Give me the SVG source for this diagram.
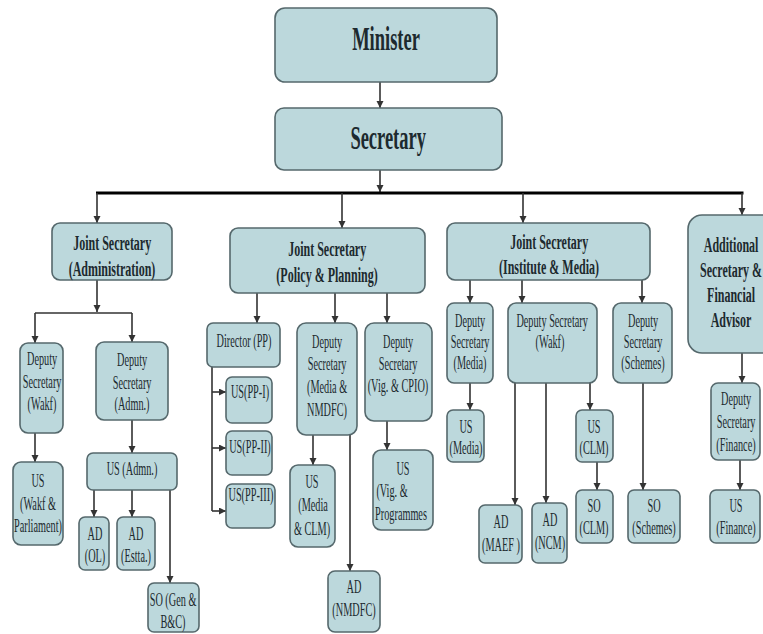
<svg xmlns="http://www.w3.org/2000/svg" width="763" height="634" viewBox="0 0 763 634">
<defs>
<marker id="ah" markerWidth="8" markerHeight="8" refX="7" refY="3.5" orient="auto" markerUnits="userSpaceOnUse">
<path d="M0,0 L7,3.5 L0,7 z" fill="#333"/>
</marker>
<style>
.b{fill:#bcd8dc;stroke:#55686c;stroke-width:1.6}
text{font-family:"Liberation Serif","Times New Roman",serif;fill:#1d2a2f;text-anchor:middle;transform-box:fill-box;transform-origin:center}
.h1{font-size:33px;font-weight:bold;transform:scaleX(.56)}
.h2{font-size:20px;font-weight:bold;transform:scaleX(.6)}
.r{font-size:19px;transform:scaleX(.54)}
.c line,.c path{stroke:#333;stroke-width:1.6;fill:none}
.c .a{marker-end:url(#ah)}
.c .bus{stroke:#000;stroke-width:3.2}
</style>
</defs>
<rect width="763" height="634" fill="#fff"/>

<g class="c" id="connectors">
<line class="a" x1="380" y1="82" x2="380" y2="108"/>
<line class="a" x1="380" y1="170" x2="380" y2="192"/>
<line class="bus" x1="96" y1="193" x2="743.5" y2="193"/>
<line class="a" x1="97" y1="193" x2="97" y2="223"/>
<line class="a" x1="342" y1="193" x2="342" y2="228"/>
<line class="a" x1="523" y1="193" x2="523" y2="223"/>
<line class="a" x1="742" y1="193" x2="742" y2="215"/>
<line class="a" x1="97" y1="280" x2="97" y2="312"/>
<line x1="35" y1="313" x2="132" y2="313"/>
<line class="a" x1="35" y1="313" x2="35" y2="343"/>
<line class="a" x1="132" y1="313" x2="132" y2="342"/>
<line class="a" x1="35" y1="433" x2="35" y2="462"/>
<line class="a" x1="132" y1="420" x2="132" y2="453"/>
<line class="a" x1="94" y1="490" x2="94" y2="517"/>
<line class="a" x1="132" y1="490" x2="132" y2="517"/>
<line class="a" x1="170" y1="490" x2="170" y2="583"/>
<line class="a" x1="257" y1="293" x2="257" y2="323"/>
<line class="a" x1="335" y1="293" x2="335" y2="323"/>
<line class="a" x1="387" y1="293" x2="387" y2="323"/>
<line x1="212" y1="366" x2="212" y2="511"/>
<line class="a" x1="212" y1="392" x2="226" y2="392"/>
<line class="a" x1="212" y1="448" x2="226" y2="448"/>
<line class="a" x1="212" y1="511" x2="226" y2="511"/>
<line class="a" x1="313" y1="435" x2="313" y2="465"/>
<line class="a" x1="350" y1="435" x2="350" y2="571"/>
<line class="a" x1="387" y1="421" x2="387" y2="450"/>
<line class="a" x1="470" y1="280" x2="470" y2="303"/>
<line class="a" x1="522" y1="280" x2="522" y2="303"/>
<line class="a" x1="642" y1="280" x2="642" y2="303"/>
<line class="a" x1="470" y1="383" x2="470" y2="410"/>
<line class="a" x1="515" y1="383" x2="515" y2="505"/>
<line class="a" x1="546" y1="383" x2="546" y2="503"/>
<line class="a" x1="590" y1="383" x2="590" y2="410"/>
<line class="a" x1="597" y1="462" x2="597" y2="490"/>
<line class="a" x1="643" y1="383" x2="643" y2="490"/>
<line class="a" x1="742" y1="353" x2="742" y2="383"/>
<line class="a" x1="740" y1="460" x2="740" y2="490"/>
</g>

<g id="minister"><rect class="b" x="275" y="8" width="222" height="74" rx="10"/><text class="h1" x="386" y="50">Minister</text></g>
<g id="secretary"><rect class="b" x="275" y="108" width="227" height="62" rx="9"/><text class="h1" x="388" y="149">Secretary</text></g>

<g id="js-admin"><rect class="b" x="52" y="223" width="120" height="57" rx="8"/><text class="h2" x="112" y="250">Joint Secretary</text><text class="h2" x="112" y="276">(Administration)</text></g>
<g id="js-pp"><rect class="b" x="230" y="228" width="195" height="65" rx="8"/><text class="h2" x="327" y="256">Joint Secretary</text><text class="h2" x="327" y="282">(Policy &amp; Planning)</text></g>
<g id="js-im"><rect class="b" x="447" y="223" width="203" height="57" rx="8"/><text class="h2" x="549" y="249">Joint Secretary</text><text class="h2" x="549" y="274">(Institute &amp; Media)</text></g>
<g id="as-fa"><rect class="b" x="688" y="215" width="100" height="138" rx="14"/><text class="h2" x="731" y="252">Additional</text><text class="h2" x="731" y="277">Secretary &amp;</text><text class="h2" x="731" y="302">Financial</text><text class="h2" x="731" y="327">Advisor</text></g>

<g id="ds-wakf-l"><rect class="b" x="20" y="343" width="43" height="90" rx="8"/><text class="r" x="42" y="365">Deputy</text><text class="r" x="42" y="388">Secretary</text><text class="r" x="42" y="410">(Wakf)</text></g>
<g id="ds-admn"><rect class="b" x="96" y="342" width="72" height="78" rx="8"/><text class="r" x="132" y="366">Deputy</text><text class="r" x="132" y="389">Secretary</text><text class="r" x="132" y="410">(Admn.)</text></g>
<g id="us-wakf"><rect class="b" x="13" y="462" width="50" height="83" rx="8"/><text class="r" x="38" y="487">US</text><text class="r" x="38" y="510">(Wakf &amp;</text><text class="r" x="38" y="532">Parliament)</text></g>
<g id="us-admn"><rect class="b" x="87" y="453" width="90" height="37" rx="6"/><text class="r" x="132" y="475">US (Admn.)</text></g>
<g id="ad-ol"><rect class="b" x="79" y="517" width="30" height="53" rx="6"/><text class="r" x="95" y="540">AD</text><text class="r" x="95" y="562">(OL)</text></g>
<g id="ad-estta"><rect class="b" x="117" y="517" width="38" height="53" rx="6"/><text class="r" x="136" y="540">AD</text><text class="r" x="136" y="562">(Estta.)</text></g>
<g id="so-gen"><rect class="b" x="148" y="583" width="51" height="49" rx="6"/><text class="r" x="173" y="606">SO (Gen &amp;</text><text class="r" x="173" y="628">B&amp;C)</text></g>

<g id="dir-pp"><rect class="b" x="207" y="323" width="73" height="44" rx="6"/><text class="r" x="244" y="347">Director (PP)</text></g>
<g id="ds-media-nmdfc"><rect class="b" x="297" y="323" width="60" height="112" rx="9"/><text class="r" x="327" y="348">Deputy</text><text class="r" x="327" y="370">Secretary</text><text class="r" x="327" y="393">(Media &amp;</text><text class="r" x="327" y="416">NMDFC)</text></g>
<g id="ds-vig"><rect class="b" x="365" y="323" width="67" height="98" rx="9"/><text class="r" x="398" y="348">Deputy</text><text class="r" x="398" y="370">Secretary</text><text class="r" x="398" y="392">(Vig. &amp; CPIO)</text></g>
<g id="us-pp1"><rect class="b" x="226" y="377" width="46" height="46" rx="6"/><text class="r" x="250" y="398">US(PP-I)</text></g>
<g id="us-pp2"><rect class="b" x="226" y="431" width="46" height="44" rx="6"/><text class="r" x="250" y="453">US(PP-II)</text></g>
<g id="us-pp3"><rect class="b" x="226" y="484" width="49" height="44" rx="6"/><text class="r" x="251" y="501">US(PP-III)</text></g>
<g id="us-media-clm"><rect class="b" x="290" y="465" width="45" height="82" rx="8"/><text class="r" x="312" y="488">US</text><text class="r" x="313" y="511">(Media</text><text class="r" x="312" y="535">&amp; CLM)</text></g>
<g id="ad-nmdfc"><rect class="b" x="328" y="571" width="52" height="61" rx="7"/><text class="r" x="354" y="593">AD</text><text class="r" x="354" y="616">(NMDFC)</text></g>
<g id="us-vig"><rect class="b" x="373" y="450" width="60" height="80" rx="8"/><text class="r" x="403" y="475">US</text><text class="r" x="392" y="497">(Vig. &amp;</text><text class="r" x="401" y="520">Programmes</text></g>

<g id="ds-media"><rect class="b" x="447" y="303" width="46" height="80" rx="7"/><text class="r" x="470" y="327">Deputy</text><text class="r" x="470" y="348">Secretary</text><text class="r" x="470" y="369">(Media)</text></g>
<g id="ds-wakf-m"><rect class="b" x="508" y="303" width="89" height="80" rx="8"/><text class="r" x="552" y="327">Deputy Secretary</text><text class="r" x="550" y="348">(Wakf)</text></g>
<g id="ds-schemes"><rect class="b" x="613" y="303" width="59" height="80" rx="8"/><text class="r" x="643" y="327">Deputy</text><text class="r" x="643" y="348">Secretary</text><text class="r" x="643" y="369">(Schemes)</text></g>
<g id="us-media"><rect class="b" x="447" y="410" width="37" height="52" rx="6"/><text class="r" x="466" y="433">US</text><text class="r" x="466" y="454">(Media)</text></g>
<g id="us-clm"><rect class="b" x="576" y="410" width="37" height="52" rx="6"/><text class="r" x="594" y="433">US</text><text class="r" x="594" y="454">(CLM)</text></g>
<g id="so-clm"><rect class="b" x="576" y="490" width="37" height="53" rx="6"/><text class="r" x="594" y="512">SO</text><text class="r" x="594" y="534">(CLM)</text></g>
<g id="so-schemes"><rect class="b" x="628" y="490" width="52" height="53" rx="6"/><text class="r" x="654" y="512">SO</text><text class="r" x="654" y="534">(Schemes)</text></g>
<g id="ad-maef"><rect class="b" x="479" y="505" width="43" height="58" rx="6"/><text class="r" x="501" y="528">AD</text><text class="r" x="501" y="551">(MAEF )</text></g>
<g id="ad-ncm"><rect class="b" x="532" y="503" width="35" height="60" rx="6"/><text class="r" x="550" y="526">AD</text><text class="r" x="550" y="549">(NCM)</text></g>

<g id="ds-finance"><rect class="b" x="711" y="383" width="49" height="77" rx="7"/><text class="r" x="736" y="405">Deputy</text><text class="r" x="736" y="428">Secretary</text><text class="r" x="736" y="451">(Finance)</text></g>
<g id="us-finance"><rect class="b" x="710" y="490" width="50" height="53" rx="6"/><text class="r" x="736" y="512">US</text><text class="r" x="736" y="534">(Finance)</text></g>
</svg>
